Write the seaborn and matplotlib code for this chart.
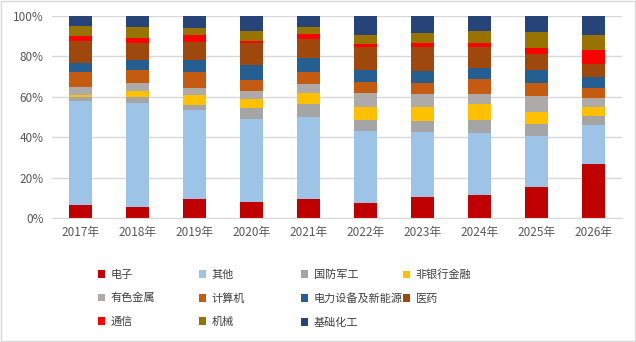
import numpy as np
import pandas as pd
import matplotlib
matplotlib.use("Agg")
import matplotlib.pyplot as plt
import seaborn as sns
from matplotlib.patches import Patch, Rectangle

# data (shares in %, bottom to top)
years = ["2017年", "2018年", "2019年", "2020年", "2021年", "2022年", "2023年", "2024年", "2025年", "2026年"]
sectors = ["电子", "其他", "国防军工", "非银行金融", "有色金属", "计算机",
           "电力设备及新能源", "医药", "通信", "机械", "基础化工"]

dianzi    = [6.6, 5.4, 9.4, 7.9, 9.4, 7.4, 10.4, 11.4, 15.3, 26.7]
qita      = [51.3, 51.5, 44.1, 41.1, 40.6, 35.7, 32.2, 30.7, 25.3, 19.3]
guofang   = [2.0, 2.8, 2.4, 5.5, 6.4, 5.4, 5.4, 6.4, 5.9, 4.5]
feiyin    = [1.0, 3.2, 5.0, 4.4, 5.5, 6.4, 6.9, 7.9, 6.0, 4.4]
youse     = [4.0, 3.9, 3.5, 4.0, 4.4, 7.0, 6.5, 5.0, 7.9, 4.5]
jisuanji  = [7.5, 6.5, 7.9, 5.4, 6.1, 5.6, 5.4, 7.4, 6.4, 5.0]
dianli    = [4.5, 5.1, 5.9, 7.4, 6.8, 5.9, 6.0, 5.6, 6.6, 5.4]
yiyao     = [10.7, 8.2, 8.9, 10.9, 9.4, 11.3, 11.9, 10.3, 8.0, 6.6]
tongxin   = [2.7, 2.7, 3.7, 1.0, 2.7, 1.6, 1.9, 1.9, 2.9, 6.9]
jixie     = [4.7, 5.3, 3.3, 5.0, 3.3, 4.3, 5.0, 6.0, 7.8, 7.3]
jichu     = [5.0, 5.4, 5.9, 7.4, 5.4, 9.4, 8.4, 7.4, 7.9, 9.4]

colors = ["#C00000", "#9DC3E6", "#A5A5A5", "#FFC000", "#AEAAAA", "#C55A11",
          "#255E91", "#9E480E", "#FF0000", "#997300", "#264478"]

series = [dianzi, qita, guofang, feiyin, youse, jisuanji, dianli, yiyao, tongxin, jixie, jichu]
df = pd.DataFrame(np.array(series).T, columns=sectors)
df.insert(0, "year", years)
# normalise to 100%
vals = df[sectors].div(df[sectors].sum(axis=1), axis=0)

sns.set_style("white")
plt.rcParams["font.family"] = ["Noto Sans CJK SC", "DejaVu Sans"]

fig = plt.figure(figsize=(6.36, 3.42), dpi=100)
ax = fig.add_axes([52 / 636, 1 - 218 / 342, 570 / 636, 202 / 342])

bottom = np.zeros(len(years))
for name, c in zip(sectors, colors):
    sns.barplot(x=df["year"], y=vals[name].values, bottom=bottom, color=c,
                width=0.4, ax=ax, saturation=1, linewidth=0, edgecolor="none")
    bottom += vals[name].values

ax.set_ylim(0, 1)
ax.set_xlim(-0.5, len(years) - 0.5)
ax.set_yticks(np.arange(0, 1.01, 0.2))
ax.set_yticklabels([f"{int(round(v * 100))}%" for v in np.arange(0, 1.01, 0.2)])
ax.yaxis.grid(True, color="#D9D9D9", linewidth=1)
ax.set_axisbelow(True)
for s in ["top", "right", "left"]:
    ax.spines[s].set_visible(False)
ax.spines["bottom"].set_color("#D9D9D9")
ax.tick_params(axis="both", length=0, labelsize=8.5, colors="#595959", pad=6)
ax.set_xlabel("")
ax.set_ylabel("")

# legend: four fixed columns, like the reference
cols = [[0, 4, 8], [1, 5, 9], [2, 6, 10], [3, 7]]
xs = [92, 193, 295, 397]
for xpos, idx in zip(xs, cols):
    handles = [Patch(facecolor=colors[i], edgecolor="none") for i in idx]
    fig.legend(handles, [sectors[i] for i in idx], loc="upper left",
               bbox_to_anchor=(xpos / 636, 1 - 264 / 342), frameon=False,
               fontsize=8, handlelength=0.7, handleheight=0.7,
               handletextpad=0.5, labelspacing=1.2, borderpad=0,
               labelcolor="#404040")

fig.add_artist(Rectangle((0.001, 0.002), 0.997, 0.995, transform=fig.transFigure,
                         fill=False, edgecolor="#D9D9D9", linewidth=1))

fig.savefig("out.png", dpi=100)
